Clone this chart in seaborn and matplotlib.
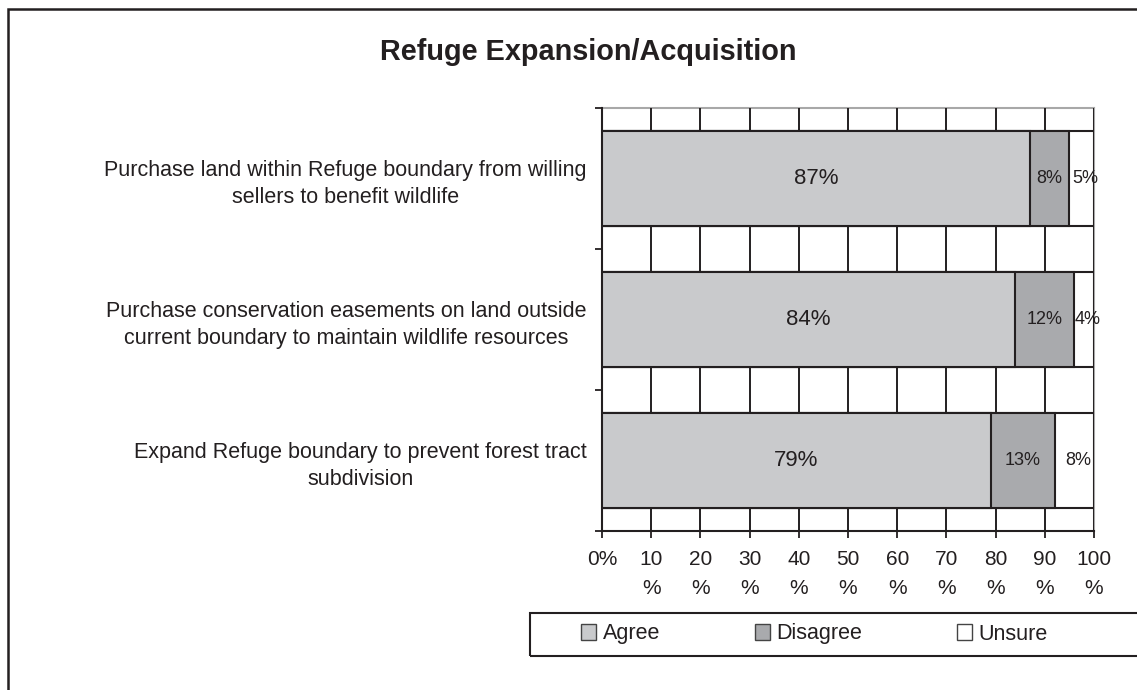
import matplotlib
matplotlib.use("Agg")
import matplotlib.pyplot as plt
import seaborn as sns
import numpy as np
import pandas as pd
from matplotlib.patches import Patch, Rectangle

# ---- data ----
categories = [
    "Purchase land within Refuge boundary from willing\nsellers to benefit wildlife",
    "Purchase conservation easements on land outside\ncurrent boundary to maintain wildlife resources",
    "Expand Refuge boundary to prevent forest tract\nsubdivision",
]
agree = [87, 84, 79]
disagree = [8, 12, 13]
unsure = [5, 4, 8]
series_names = ["Agree", "Disagree", "Unsure"]
x_ticks = [0, 10, 20, 30, 40, 50, 60, 70, 80, 90, 100]
x_tick_labels = ["0%", "10\n%", "20\n%", "30\n%", "40\n%", "50\n%",
                 "60\n%", "70\n%", "80\n%", "90\n%", "100\n%"]
title = "Refuge Expansion/Acquisition"

# ---- style ----
sns.set_theme(style="white")
plt.rcParams["font.family"] = ["Liberation Sans", "DejaVu Sans"]
DARK = "#231f20"
C_AGREE = "#c9cacc"
C_DIS = "#a9aaad"
C_UNS = "#ffffff"
W, H = 1137, 690

df = pd.DataFrame({"cat": categories, "agree": agree,
                   "disagree": disagree, "unsure": unsure})
df["cum2"] = df["agree"] + df["disagree"]
df["cum3"] = df["cum2"] + df["unsure"]

fig = plt.figure(figsize=(W / 100, H / 100), dpi=100)
ax = fig.add_axes([602 / W, 1 - 531 / H, (1094 - 602) / W, (531 - 108) / H])

bar_kw = dict(y="cat", orient="h", width=0.675, saturation=1,
              edgecolor=DARK, linewidth=1.5, ax=ax, zorder=3)
sns.barplot(data=df, x="cum3", color=C_UNS, **bar_kw)
sns.barplot(data=df, x="cum2", color=C_DIS, **bar_kw)
sns.barplot(data=df, x="agree", color=C_AGREE, **bar_kw)

# segment labels
for i in range(len(categories)):
    a, d, u = agree[i], disagree[i], unsure[i]
    ax.text(a / 2, i, f"{a}%", ha="center", va="center", fontsize=16,
            color=DARK, zorder=5)
    ax.text(a + d / 2, i, f"{d}%", ha="center", va="center", fontsize=13,
            color=DARK, zorder=5)
    ax.text(a + d + u / 2 + 0.8, i, f"{u}%", ha="center", va="center",
            fontsize=13, color=DARK, zorder=5)

ax.set_xlim(0, 100)
ax.set_ylim(len(categories) - 0.5, -0.5)
ax.set_xticks(x_ticks)
ax.set_xticklabels(x_tick_labels, linespacing=1.65)
ax.set_xlabel("")
ax.set_ylabel("")
ax.set_yticks(range(len(categories)))
ax.set_yticklabels(categories, multialignment="center", linespacing=1.4)
ax.set_yticks(np.arange(-0.5, len(categories), 1.0), minor=True)

ax.tick_params(axis="x", which="major", direction="out", length=5, width=1.3,
               color=DARK, labelsize=15, labelcolor=DARK, pad=9, bottom=True)
ax.tick_params(axis="y", which="major", length=0, labelsize=15.5,
               labelcolor=DARK, pad=11, left=False)
ax.tick_params(axis="y", which="minor", direction="out", length=5, width=1.3,
               color=DARK, left=True)

ax.xaxis.grid(True, color=DARK, linewidth=1.4)
ax.yaxis.grid(False)
ax.set_axisbelow(True)
for s in ["left", "bottom"]:
    ax.spines[s].set_color(DARK)
    ax.spines[s].set_linewidth(1.5)
for s in ["top", "right"]:
    ax.spines[s].set_color("#a8a8a8")
    ax.spines[s].set_linewidth(1.5)
    ax.spines[s].set_zorder(0.5)

# title
fig.text(588 / W, 1 - 60 / H, title, ha="center", va="baseline",
         fontsize=20.8, fontweight="bold", color=DARK)

# legend
handles = [Patch(facecolor=c, edgecolor="#444444", linewidth=1.0)
           for c in (C_AGREE, C_DIS, C_UNS)]
fig.legend(handles, series_names, loc="center left",
           bbox_to_anchor=(581 / W, 1 - 634 / H), ncol=3, frameon=False,
           fontsize=15.5, handlelength=0.7, handleheight=0.7,
           handletextpad=0.3, columnspacing=4.4, borderpad=0,
           borderaxespad=0, labelcolor=DARK)
fig.patches.append(Rectangle((530 / W, 1 - 656 / H), 0.6, (656 - 613) / H,
                             transform=fig.transFigure, fill=False,
                             edgecolor=DARK, linewidth=1.5, clip_on=False))

# outer frame
fig.patches.append(Rectangle((8 / W, -0.1), 1.1, 1.1 - 9 / H,
                             transform=fig.transFigure, fill=False,
                             edgecolor=DARK, linewidth=1.8, clip_on=False))

fig.savefig("out.png", dpi=100)
